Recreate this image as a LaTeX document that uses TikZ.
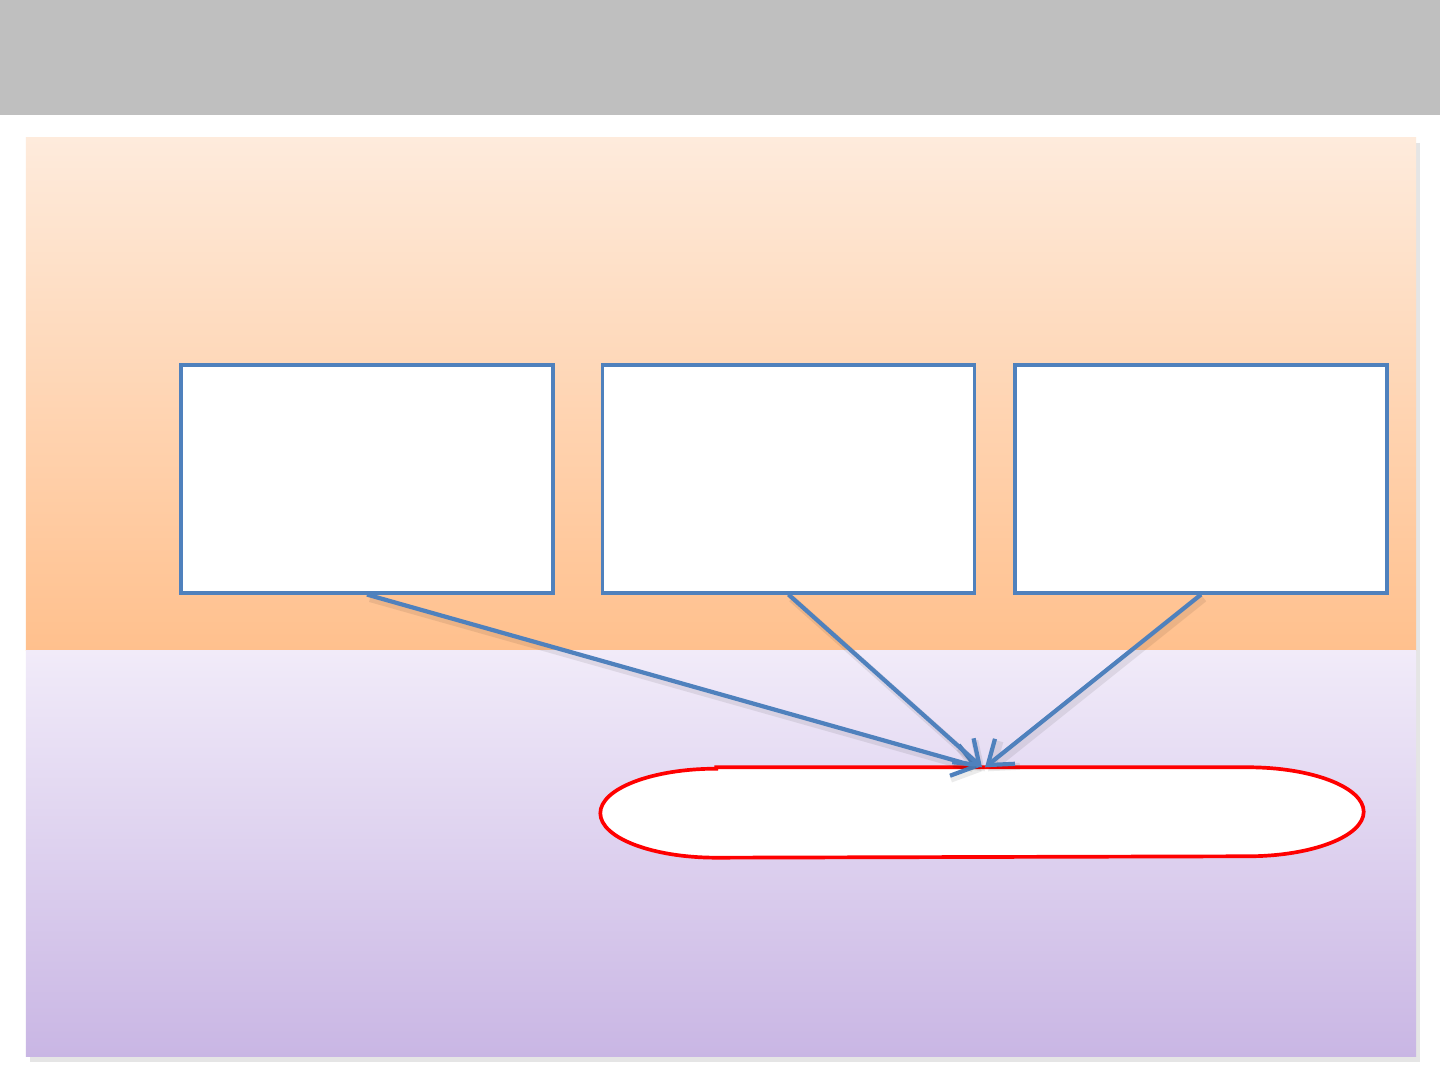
\documentclass[tikz,border=0pt]{standalone}
\usepackage{tikz}
\usetikzlibrary{arrows.meta,shadows}

\definecolor{barg}{RGB}{191,191,191}
\definecolor{ortop}{RGB}{254,235,220}
\definecolor{orbot}{RGB}{255,192,141}
\definecolor{putop}{RGB}{241,235,249}
\definecolor{pubot}{RGB}{201,182,228}
\definecolor{boxb}{RGB}{79,129,189}

\begin{document}
\begin{tikzpicture}[x=1cm,y=1cm,>={Straight Barb[length=2.2mm,width=3.2mm]},
    panel/.style={drop shadow={shadow xshift=.4mm,shadow yshift=-.5mm,opacity=.2}},
    box/.style={draw=boxb,line width=.9pt,fill=white,minimum width=3.72cm,minimum height=2.28cm,inner sep=0pt},
    link/.style={draw=boxb,line width=1.2pt,->,
        preaction={draw=black,opacity=.08,line width=2pt,transform canvas={shift={(.3mm,-.4mm)}}}}]
\useasboundingbox (0,0) rectangle (14.4,10.8);
\fill[white] (0,0) rectangle (14.4,10.8);
\fill[barg] (0,10.8) rectangle (14.4,9.65);
\fill[panel,top color=ortop,bottom color=orbot] (.26,9.42) rectangle (14.16,4.29);
\fill[panel,top color=putop,bottom color=pubot] (.26,4.29) rectangle (14.16,.23);
\node [box] (a) at (3.67,6.01) {};
\node [box] (b) at (7.885,6.01) {};
\node [box] (c) at (12.01,6.01) {};
\node [minimum width=7.62cm,minimum height=.89cm,inner sep=0pt] (t) at (9.82,2.675) {};
\draw[red,line width=1.05pt,fill=white] ([xshift=1.16cm]t.north west) -- ([xshift=-1.16cm]t.north east)
    arc[start angle=90,end angle=-90,x radius=1.16cm,y radius=.445cm]
    -- ([xshift=1.16cm]t.south west)
    arc[start angle=270,end angle=90,x radius=1.16cm,y radius=.445cm] -- cycle;
\draw[link] (a.south) -- ([xshift=-.3mm]t.north);
\draw[link] (b.south) -- (t.north);
\draw[link] (c.south) -- ([xshift=.3mm]t.north);
\end{tikzpicture}
\end{document}
